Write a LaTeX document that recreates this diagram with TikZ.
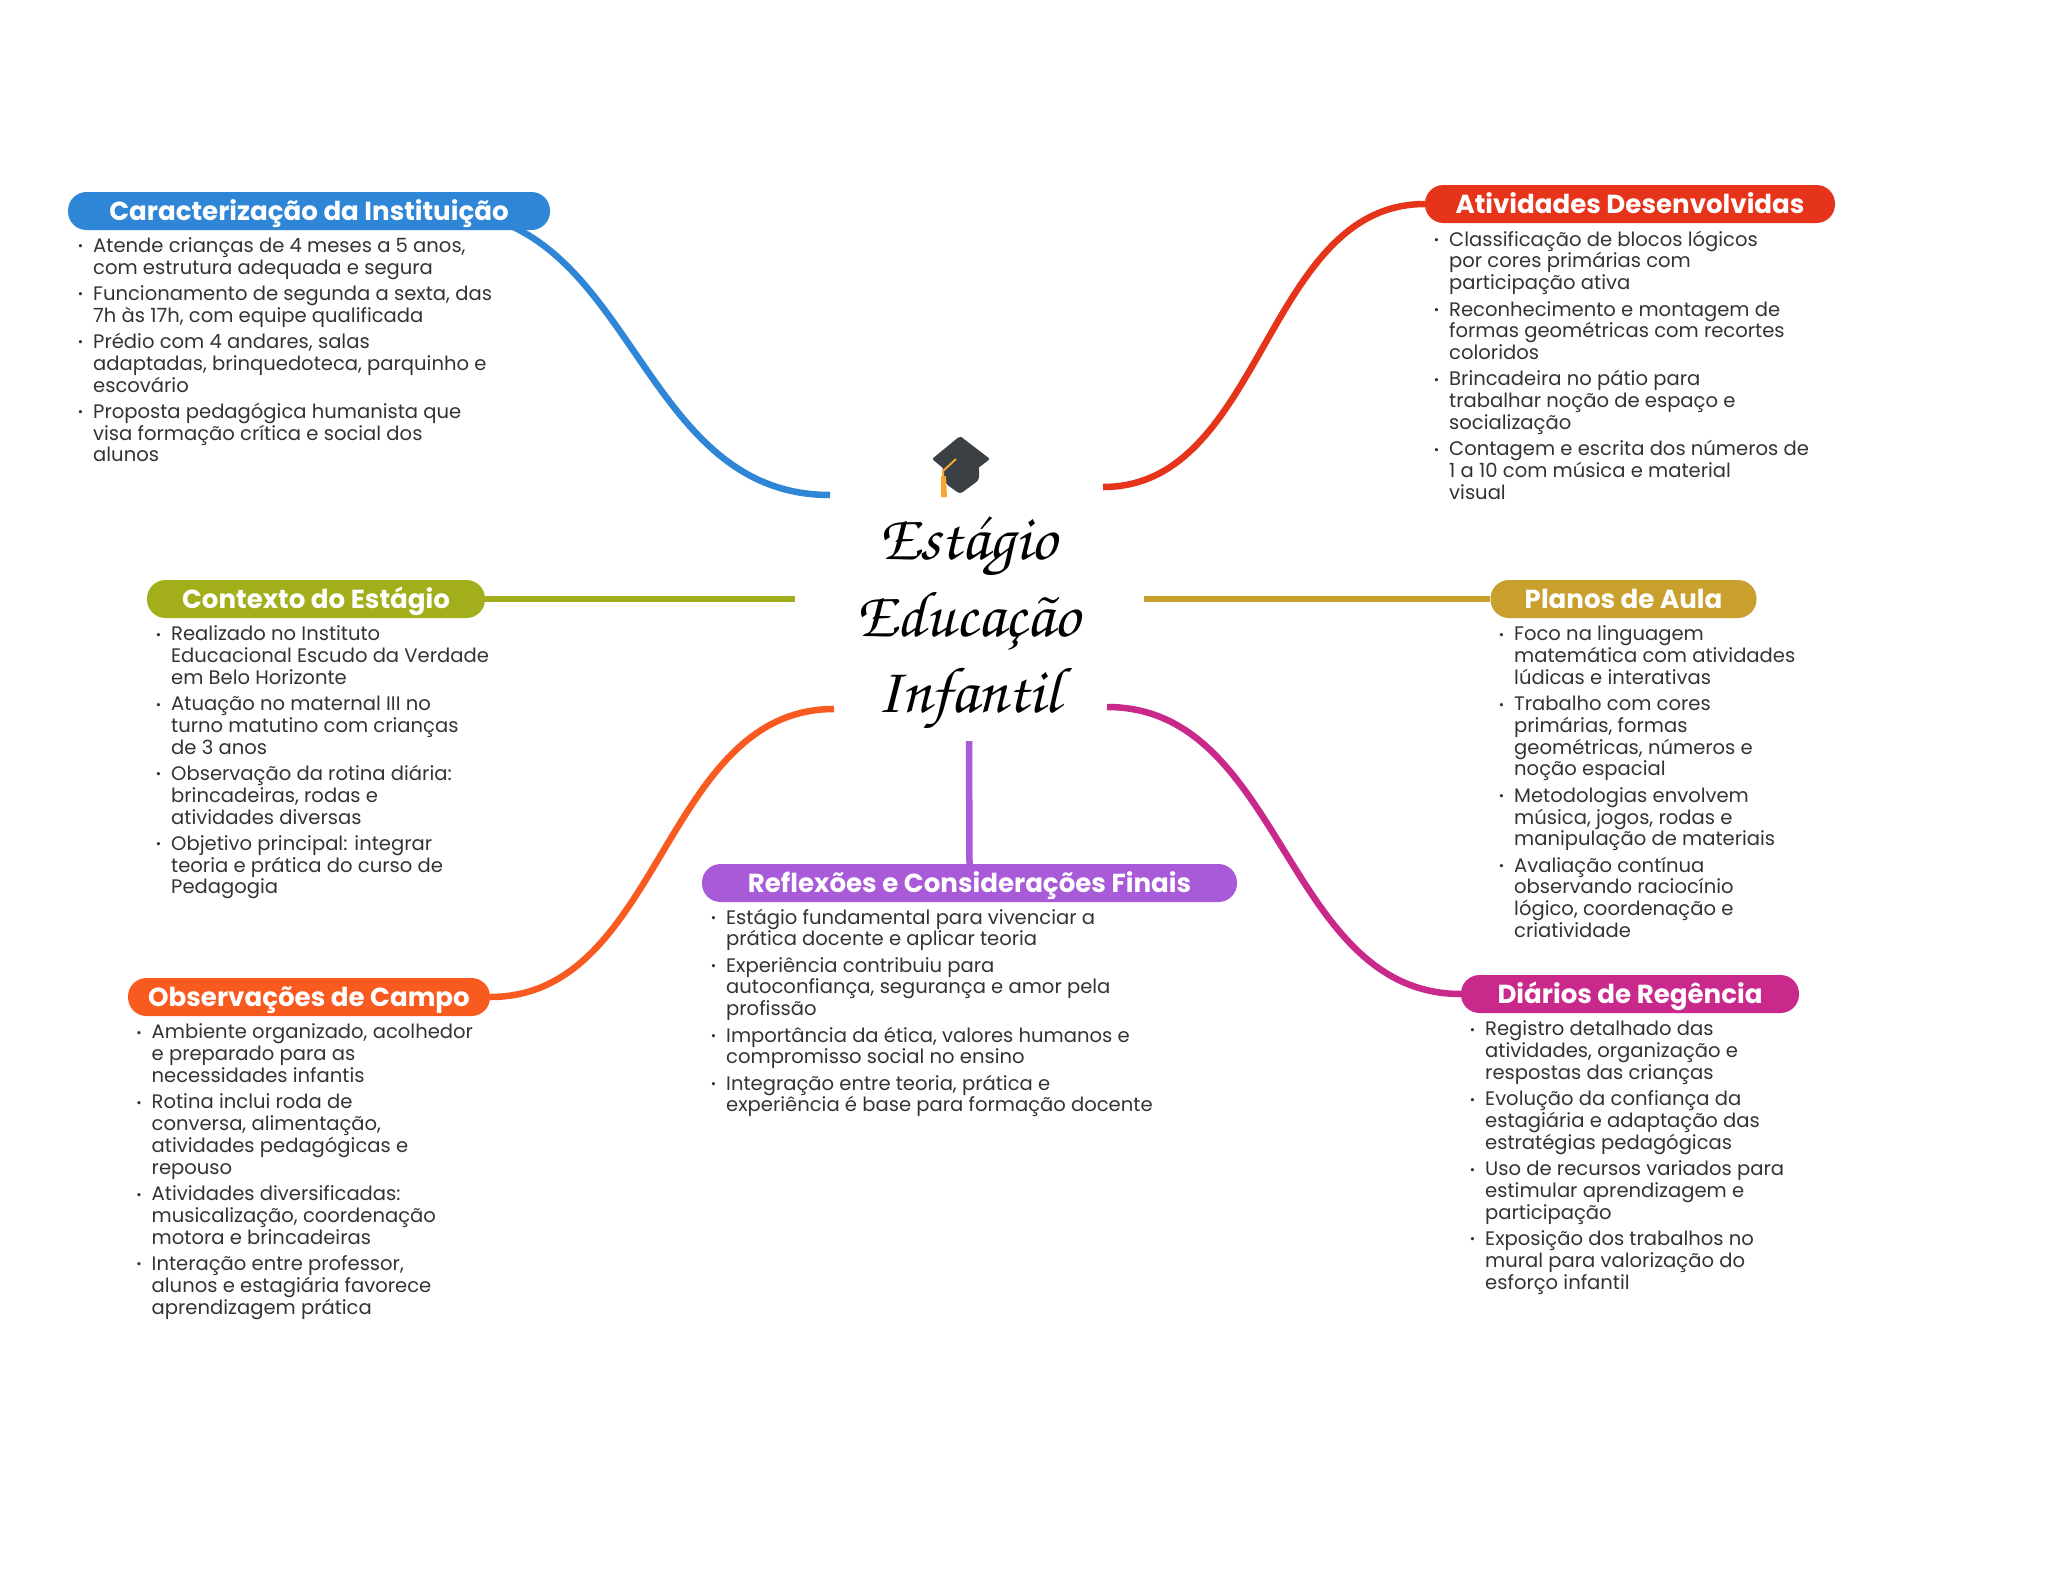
\documentclass[tikz,border=0pt]{standalone}
\usepackage[T1,TU]{fontenc}
\usepackage{fontspec}
\setmainfont{Poppins}
\newcommand{\scriptfam}{\fontencoding{T1}\fontfamily{pzc}\fontseries{mb}\fontshape{it}\fontsize{65}{76.5}\selectfont}
\definecolor{cblue}{HTML}{3086D6}
\definecolor{cred}{HTML}{E5341A}
\definecolor{colive}{HTML}{A2AF1B}
\definecolor{cgold}{HTML}{C9A02E}
\definecolor{corange}{HTML}{F85A20}
\definecolor{cmag}{HTML}{C9298A}
\definecolor{cpurple}{HTML}{A85AD8}
\definecolor{ctext}{HTML}{333333}
\definecolor{ccap}{HTML}{3B4045}
\definecolor{ctassel}{HTML}{F5A733}
\newcommand{\itm}{\makebox[0pt][r]{{\fontsize{13}{13}\selectfont\raisebox{1.5pt}{•}}\hspace{10pt}}}
\newcommand{\fl}{\rule{0pt}{15pt}}
\newcommand{\gap}{\\[4.5pt]}
\tikzset{
 pill/.style={fill=#1,rounded corners=18.5pt,minimum height=38pt,inner sep=0pt,text height=22.4pt,text depth=4pt,text=white,font=\fontsize{26.1}{30}\selectfont\bfseries},
 body/.style={anchor=north west,align=left,inner sep=0pt,text=ctext,font=\fontsize{19.57}{21.8}\selectfont},
 link/.style={line width=6.5pt,draw=#1}
}
\begin{document}
\begin{tikzpicture}[x=1pt,y=-1pt]
\useasboundingbox[fill=white] (0,0) rectangle (2048,1569);
% named end points
\coordinate (eBlue) at (830,495);
\coordinate (sBlue) at (440,211);
\coordinate (eRed) at (1103,487);
\coordinate (sRed) at (1425,204);
\coordinate (eOlive) at (795,599);
\coordinate (eGold) at (1144,599);
\coordinate (eOrange) at (834,709);
\coordinate (sOrange) at (490,997);
\coordinate (eMag) at (1107,707);
\coordinate (sMag) at (1461,994);
\coordinate (ePurple) at (969,741);
% connectors first, behind the pills
\draw[link=cblue] (eBlue) .. controls (635,495) and (635,211) .. (sBlue);
\draw[link=cred] (eRed) .. controls (1264,487) and (1264,204) .. (sRed);
\draw[link=corange] (eOrange) .. controls (662,709) and (662,997) .. (sOrange);
\draw[link=cmag] (eMag) .. controls (1284,707) and (1284,994) .. (sMag);
% pills
\node[pill=cblue,minimum width=482pt] (p1) at (309,211) {Caracterização da Instituição};
\node[pill=cred,minimum width=410pt] (p2) at (1630,204) {Atividades Desenvolvidas};
\node[pill=colive,minimum width=338pt] (p3) at (316,599) {Contexto do Estágio};
\node[pill=cgold,minimum width=266pt] (p4) at (1623.5,599) {Planos de Aula};
\node[pill=corange,minimum width=362pt] (p5) at (309,997) {Observações de Campo};
\node[pill=cmag,minimum width=338pt] (p6) at (1630,994) {Diários de Regência};
\node[pill=cpurple,minimum width=535pt] (p7) at (969.5,883) {Reflexões e Considerações Finais};
\draw[link=colive] (p3.east) -- (eOlive);
\draw[link=cgold] (eGold) -- (p4.west);
\draw[link=cpurple] (ePurple) -- (p7.north);
% cap
\fill[ccap,rounded corners=3pt] (942,466) -- (960,479) -- (979,466) -- (979,480) -- (960,494) -- (946,484) -- cycle;
\fill[ccap,rounded corners=2pt] (960,436) -- (990,459) -- (960,482) -- (932,459) -- cycle;
\draw[ctassel,line width=2pt] (956,459) -- (943,471) -- (943,480);
\fill[ctassel] (941,476) -- (946,476) -- (947,497) -- (941,497) -- cycle;
% title
\node[align=center,inner sep=0pt,text=black,font=\scriptfam] (title) at (968,625) {Est\'agio\\ Educa\c{c}\~ao\\ Infantil};
% bodies
\node[body] (t1) at (93,237) {\itm\fl Atende crianças de 4 meses a 5 anos,\\com estrutura adequada e segura\gap
\itm Funcionamento de segunda a sexta, das\\7h às 17h, com equipe qualificada\gap
\itm Prédio com 4 andares, salas\\adaptadas, brinquedoteca, parquinho e\\escovário\gap
\itm Proposta pedagógica humanista que\\visa formação crítica e social dos\\alunos};
\node[body] (t2) at (1449,230.5) {\itm\fl Classificação de blocos lógicos\\por cores primárias com\\participação ativa\gap
\itm Reconhecimento e montagem de\\formas geométricas com recortes\\coloridos\gap
\itm Brincadeira no pátio para\\trabalhar noção de espaço e\\socialização\gap
\itm Contagem e escrita dos números de\\1 a 10 com música e material\\visual};
\node[body] (t3) at (171,625.4) {\itm\fl Realizado no Instituto\\Educacional Escudo da Verdade\\em Belo Horizonte\gap
\itm Atuação no maternal III no\\turno matutino com crianças\\de 3 anos\gap
\itm Observação da rotina diária:\\brincadeiras, rodas e\\atividades diversas\gap
\itm Objetivo principal: integrar\\teoria e prática do curso de\\Pedagogia};
\node[body] (t4) at (1514,625.4) {\itm\fl Foco na linguagem\\matemática com atividades\\lúdicas e interativas\gap
\itm Trabalho com cores\\primárias, formas\\geométricas, números e\\noção espacial\gap
\itm Metodologias envolvem\\música, jogos, rodas e\\manipulação de materiais\gap
\itm Avaliação contínua\\observando raciocínio\\lógico, coordenação e\\criatividade};
\node[body] (t5) at (151.5,1023.7) {\itm\fl Ambiente organizado, acolhedor\\e preparado para as\\necessidades infantis\gap
\itm Rotina inclui roda de\\conversa, alimentação,\\atividades pedagógicas e\\repouso\gap
\itm Atividades diversificadas:\\musicalização, coordenação\\motora e brincadeiras\gap
\itm Interação entre professor,\\alunos e estagiária favorece\\aprendizagem prática};
\node[body] (t6) at (1485,1020.5) {\itm\fl Registro detalhado das\\atividades, organização e\\respostas das crianças\gap
\itm Evolução da confiança da\\estagiária e adaptação das\\estratégias pedagógicas\gap
\itm Uso de recursos variados para\\estimular aprendizagem e\\participação\gap
\itm Exposição dos trabalhos no\\mural para valorização do\\esforço infantil};
\node[body] (t7) at (726,908.5) {\itm\fl Estágio fundamental para vivenciar a\\prática docente e aplicar teoria\gap
\itm Experiência contribuiu para\\autoconfiança, segurança e amor pela\\profissão\gap
\itm Importância da ética, valores humanos e\\compromisso social no ensino\gap
\itm Integração entre teoria, prática e\\experiência é base para formação docente};
\end{tikzpicture}
\end{document}
